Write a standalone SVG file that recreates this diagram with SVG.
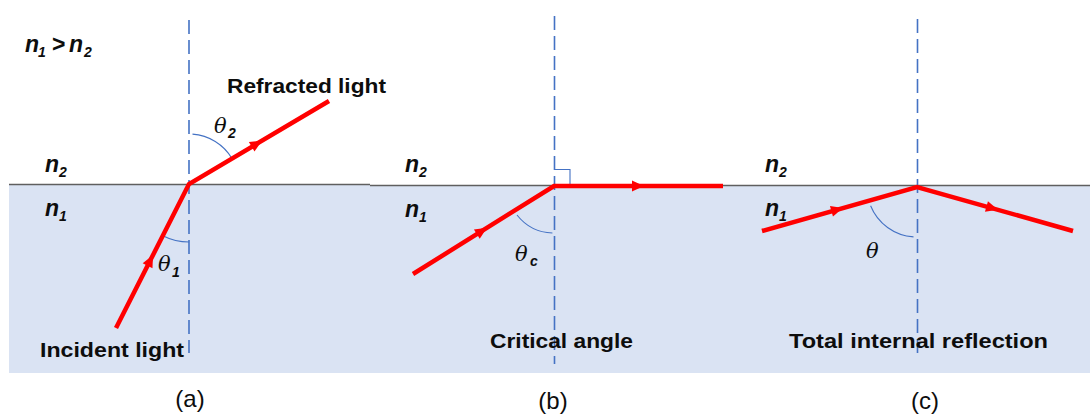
<svg xmlns="http://www.w3.org/2000/svg" width="1090" height="415" viewBox="0 0 1090 415">
<style>
.bg{fill:#DAE3F3}
.surf{stroke:#5f5f5f;stroke-width:1.5;fill:none}
.normal{stroke:#4472C4;stroke-width:1.6;stroke-dasharray:14 6;fill:none}
.arc{stroke:#4472C4;stroke-width:1.1;fill:none}
.ray{stroke:#FF0000;stroke-width:4.5;fill:none;stroke-linecap:butt;stroke-linejoin:miter}
.lbl{font-family:"Liberation Sans",Arial,sans-serif;font-weight:bold;font-size:21px;fill:#0d0d0d}
.n{font-family:"Liberation Sans",Arial,sans-serif;font-weight:bold;font-style:italic;font-size:23px;fill:#0d0d0d}
.sub{font-family:"Liberation Sans",Arial,sans-serif;font-weight:bold;font-style:italic;font-size:14px;fill:#0d0d0d}
.th{font-family:"DejaVu Serif","Liberation Serif",serif;font-style:italic;font-size:21px;fill:#0d0d0d}
.cap{font-family:"Liberation Sans",Arial,sans-serif;font-size:24px;fill:#0d0d0d;text-anchor:middle}
</style>
<defs>
<path id="ah" d="M0,0 L-12,-5.5 L-12,5.5 Z" fill="#FF0000"/>
</defs>
<rect class="bg" x="9" y="185" width="1081" height="188"/>
<path class="surf" d="M9,184.6 H370 M370,185.6 H1090"/>

<g id="panel-a">
<line class="normal" x1="189" y1="20" x2="189" y2="353"/>
<path class="arc" d="M192.5,134.1 A50,50 0 0 1 232,158.5"/>
<path class="arc" d="M162.8,235.7 A58,58 0 0 0 189,242"/>
<text class="n" x="25" y="52">n</text><text class="sub" x="38" y="57">1</text>
<text class="n" x="52" y="52" style="font-style:normal">&gt;</text>
<text class="n" x="69" y="52">n</text><text class="sub" x="84" y="57">2</text>
<text class="n" x="45" y="172">n</text><text class="sub" x="59" y="177">2</text>
<text class="n" x="45" y="216">n</text><text class="sub" x="59" y="221">1</text>
<text class="th" x="214" y="133">θ</text><text class="sub" x="228" y="138">2</text>
<text class="th" x="158" y="271">θ</text><text class="sub" x="172" y="277">1</text>
<text class="lbl" x="227" y="93" textLength="159" lengthAdjust="spacingAndGlyphs">Refracted light</text>
<text class="lbl" x="40" y="357" textLength="144" lengthAdjust="spacingAndGlyphs">Incident light</text>
<text class="cap" x="190" y="407">(a)</text>
</g>

<g id="panel-b">
<line class="normal" x1="554.5" y1="16" x2="554.5" y2="364"/>
<path class="arc" d="M555,169.5 H570 V185"/>
<path class="arc" d="M517,215 A47,47 0 0 0 552.4,233"/>
<text class="n" x="405" y="172">n</text><text class="sub" x="419" y="177">2</text>
<text class="n" x="405" y="217">n</text><text class="sub" x="419" y="222">1</text>
<text class="th" x="515" y="261">θ</text><text class="sub" x="530" y="266">c</text>
<text class="lbl" x="490" y="348" textLength="143" lengthAdjust="spacingAndGlyphs">Critical angle</text>
<text class="cap" x="553" y="409">(b)</text>
</g>

<g id="panel-c">
<line class="normal" x1="917.5" y1="19" x2="917.5" y2="354"/>
<path class="arc" d="M870.6,205.7 A50,50 0 0 0 913.5,236.9"/>
<text class="n" x="765" y="172">n</text><text class="sub" x="779" y="177">2</text>
<text class="n" x="765" y="216">n</text><text class="sub" x="779" y="221">1</text>
<text class="th" x="866" y="258">θ</text>
<text class="lbl" x="789" y="348" textLength="259" lengthAdjust="spacingAndGlyphs">Total internal reflection</text>
<text class="cap" x="925" y="409">(c)</text>
</g>

<g id="connectors">
<polyline class="ray" points="116,328 189,184 329,101"/>
<use href="#ah" transform="translate(153,255) rotate(-63.1)"/>
<use href="#ah" transform="translate(262,140.7) rotate(-30.66)"/>
<polyline class="ray" points="413,274 554,186 723,186"/>
<use href="#ah" transform="translate(487,227.8) rotate(-31.97)"/>
<use href="#ah" transform="translate(644,186) rotate(0)"/>
<polyline class="ray" points="762,231 917,187 1073,231"/>
<use href="#ah" transform="translate(843,208) rotate(-15.85)"/>
<use href="#ah" transform="translate(998,209.8) rotate(15.75)"/>
</g>
</svg>
